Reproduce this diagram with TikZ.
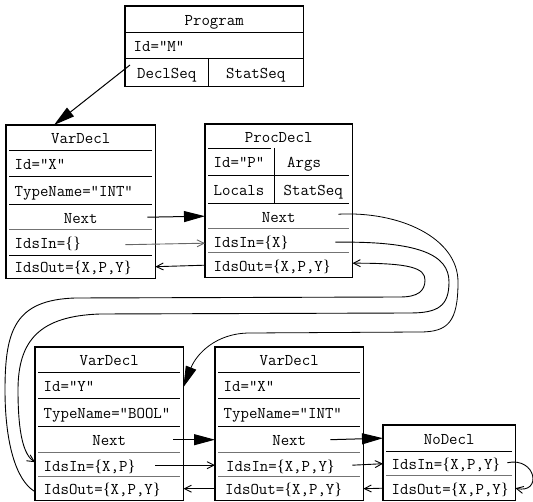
\documentclass[tikz,border=0pt]{standalone}
\usepackage{fontspec}
\setmainfont{Liberation Serif}
\newfontfamily\brfont{Liberation Serif}
\usetikzlibrary{arrows.meta}
\newcommand{\LB}{{\brfont\{}}
\newcommand{\RB}{{\brfont\}}}
\newcommand{\myhsep}[2][sep]{\draw[#1] ([xshift=3pt]#2.north west) -- ([xshift=-3pt]#2.north east);}
\begin{document}
\begin{tikzpicture}[x=1pt,y=-1pt,
  font=\ttfamily\fontsize{16.4}{18}\selectfont,
  cell/.style={anchor=north west, inner xsep=8.5pt, inner ysep=0pt, text height=13pt, text depth=1pt},
  frame/.style={draw, line width=1.1pt},
  sep/.style={draw, line width=0.9pt},
  gsep/.style={draw=black!55, line width=1pt},
  big/.style={-{Triangle[length=21pt,width=11pt]}, line width=1pt},
  open/.style={-{Straight Barb[length=7pt,width=7pt]}, line width=0.9pt},
  curve/.style={line width=0.8pt}]
\useasboundingbox (0,0) rectangle (533,502);

% ---------- Program ----------
\node[cell, minimum width=178pt, minimum height=26pt] (pgT) at (125,6) {Program};
\node[cell, text width=161pt, minimum height=26pt, align=left] (pgId) at (125,32) {Id="M"};
\node[cell, minimum width=83pt, minimum height=28pt] (pgD) at (125,58) {DeclSeq};
\node[cell, minimum width=95pt, minimum height=28pt] (pgS) at (208,58) {StatSeq};
\draw[frame] (pgT.north west) rectangle (pgS.south east);
\draw[sep] (pgId.north west) -- (pgId.north east);
\draw[sep] (pgD.north west) -- (pgS.north east);
\draw[sep] (pgD.north east) -- (pgD.south east);

% ---------- VarDecl X (top) ----------
\node[cell, minimum width=149pt, minimum height=25pt] (vxT) at (6,125) {VarDecl};
\node[cell, text width=132pt, minimum height=26pt, align=left] (vxId) at (6,150) {Id="X"};
\node[cell, text width=132pt, minimum height=28pt, align=left] (vxTy) at (6,176) {TypeName="INT"};
\node[cell, minimum width=149pt, minimum height=26pt] (vxN) at (6,204) {Next};
\node[cell, text width=132pt, minimum height=25pt, align=left] (vxI) at (6,230) {IdsIn=\LB\RB};
\node[cell, text width=132pt, minimum height=23pt, align=left] (vxO) at (6,255) {IdsOut=\LB X,P,Y\RB};
\draw[frame] (vxT.north west) rectangle (vxO.south east);
\myhsep{vxId}\myhsep{vxTy}\myhsep{vxN}\myhsep[gsep]{vxI}\myhsep{vxO}

% ---------- ProcDecl ----------
\node[cell, minimum width=147pt, minimum height=24pt] (pdT) at (205,124) {ProcDecl};
\node[cell, text width=52pt, minimum height=27pt, align=left] (pdId) at (205,148) {Id="P"};
\node[cell, inner xsep=13pt, text width=52pt, minimum height=27pt, align=left] (pdA) at (274,148) {Args};
\node[cell, text width=52pt, minimum height=28pt, align=left] (pdL) at (205,175) {Locals};
\node[cell, minimum width=78pt, minimum height=28pt] (pdS) at (274,175) {StatSeq};
\node[cell, minimum width=147pt, minimum height=26pt] (pdN) at (205,203) {Next};
\node[cell, text width=130pt, minimum height=24pt, align=left] (pdI) at (205,229) {IdsIn=\LB X\RB};
\node[cell, text width=130pt, minimum height=24pt, align=left] (pdO) at (205,253) {IdsOut=\LB X,P,Y\RB};
\draw[frame] (pdT.north west) rectangle (pdO.south east);
\myhsep{pdId}
\draw[sep] ([xshift=3pt]pdL.north west) -- ([xshift=-3pt]pdS.north east);
\draw[sep] (pdA.north west) -- (pdS.south west);
\myhsep{pdN}\myhsep[gsep]{pdI}\myhsep[gsep]{pdO}

% ---------- VarDecl Y ----------
\node[cell, minimum width=148pt, minimum height=25pt] (vyT) at (35,347) {VarDecl};
\node[cell, text width=131pt, minimum height=26pt, align=left] (vyId) at (35,372) {Id="Y"};
\node[cell, text width=131pt, minimum height=28pt, align=left] (vyTy) at (35,398) {TypeName="BOOL"};
\node[cell, minimum width=148pt, minimum height=27pt] (vyN) at (35,426) {Next};
\node[cell, text width=131pt, minimum height=24pt, align=left] (vyI) at (35,453) {IdsIn=\LB X,P\RB};
\node[cell, text width=131pt, minimum height=23pt, align=left] (vyO) at (35,477) {IdsOut=\LB X,P,Y\RB};
\draw[frame] (vyT.north west) rectangle (vyO.south east);
\myhsep{vyId}\myhsep{vyTy}\myhsep{vyN}\myhsep[gsep]{vyI}\myhsep[gsep]{vyO}

% ---------- VarDecl X (bottom) ----------
\node[cell, minimum width=148pt, minimum height=25pt] (vzT) at (215,347) {VarDecl};
\node[cell, text width=131pt, minimum height=26pt, align=left] (vzId) at (215,372) {Id="X"};
\node[cell, text width=131pt, minimum height=28pt, align=left] (vzTy) at (215,398) {TypeName="INT"};
\node[cell, minimum width=148pt, minimum height=27pt] (vzN) at (215,426) {Next};
\node[cell, inner xsep=11pt, text width=126pt, minimum height=24pt, align=left] (vzI) at (215,453) {IdsIn=\LB X,P,Y\RB};
\node[cell, inner xsep=10pt, text width=128pt, minimum height=23pt, align=left] (vzO) at (215,477) {IdsOut=\LB X,P,Y\RB};
\draw[frame] (vzT.north west) rectangle (vzO.south east);
\myhsep{vzId}\myhsep{vzTy}\myhsep{vzN}\myhsep[gsep]{vzI}\myhsep[gsep]{vzO}

% ---------- NoDecl ----------
\node[cell, minimum width=132pt, minimum height=26pt] (ndT) at (383,425) {NoDecl};
\node[cell, text width=115pt, minimum height=25pt, align=left] (ndI) at (383,451) {IdsIn=\LB X,P,Y\RB};
\node[cell, text width=115pt, minimum height=24pt, align=left] (ndO) at (383,476) {IdsOut=\LB X,P,Y\RB};
\draw[frame] (ndT.north west) rectangle (ndO.south east);
\myhsep{ndI}\myhsep[gsep]{ndO}

% ---------- connectors ----------
\draw[big] ([shift={(5,7)}]pgD.north west) -- ([xshift=48pt]vxT.north west);

\draw[big] ([xshift=-8pt]vxN.east) -- (pdN.west);
\draw[open, draw=black!60] ([xshift=-30pt,yshift=-2pt]vxI.east) -- ([yshift=-2pt]pdI.west);
\draw[open] (pdO.west) -- (vxO.east);

\draw[big] ([xshift=-10pt]vyN.east) -- (vzN.west);
\draw[open] ([xshift=-28pt]vyI.east) -- (vzI.west);
\draw[open] (vzO.west) -- (vyO.east);

\draw[big] ([xshift=-33pt]vzN.east) -- (ndT.west);
\draw[open] ([xshift=-11pt]vzI.east) -- (ndI.west);
\draw[open] (ndO.west) -- (vzO.east);

\draw[curve, open] ([xshift=-8pt,yshift=1pt]ndI.east) .. controls +(29,-6) and +(27,6) .. (ndO.east);

% long curves
\draw[curve, -{Triangle[length=21pt,width=11pt]}] ([xshift=-14pt,yshift=2pt]pdN.east)
  .. controls (400,211) and (458,238) .. (458,282)
  .. controls (458,322) and (448,332) .. (420,332)
  -- (250,333)
  .. controls (215,333) and (196,355) .. ([yshift=-2pt]vyId.east);

\draw[curve, open] ([xshift=-17pt,yshift=-1pt]pdI.east)
  .. controls (420,241) and (449,255) .. (449,282)
  .. controls (449,306) and (438,313) .. (410,313)
  -- (100,314)
  .. controls (40,316) and (18,340) .. (18,390)
  .. controls (18,435) and (24,455) .. ([yshift=3pt]vyI.west);

\draw[curve, open] ([yshift=-3pt]vyO.west)
  .. controls (15,480) and (5,440) .. (5,390)
  .. controls (5,330) and (15,300) .. (75,298)
  -- (400,297)
  .. controls (418,297) and (425,291) .. (425,280)
  .. controls (425,268) and (410,263) .. ([yshift=2pt]pdO.east);
\end{tikzpicture}
\end{document}
